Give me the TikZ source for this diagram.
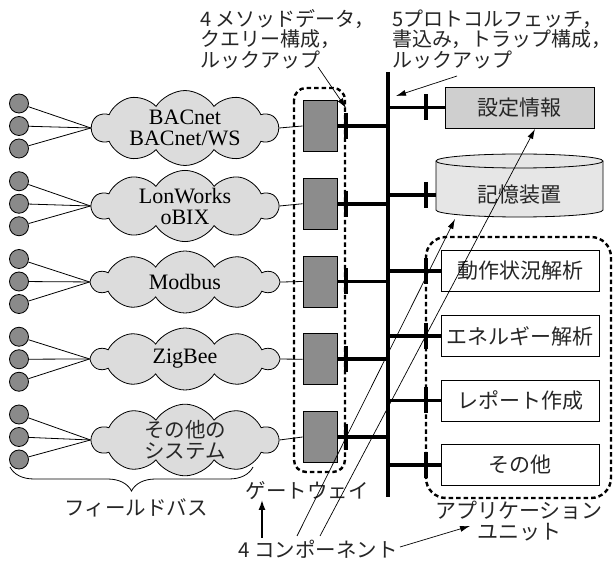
\documentclass[tikz,border=0pt]{standalone}
\usepackage{fontspec}
\setmainfont{Liberation Serif}
\newfontfamily\jp{Noto Sans CJK JP}
\newcommand\jpf{\jp\fontsize{20.5}{20.5}\selectfont}
\newcommand\jpt{\jp\fontsize{20}{20.5}\selectfont}
\newcommand\jpb{\jp\fontsize{21}{21}\selectfont}
\usetikzlibrary{shapes.symbols,arrows.meta,decorations.pathreplacing}
\definecolor{devgray}{HTML}{8A8A8A}
\definecolor{gwgray}{HTML}{8C8C8C}
\definecolor{cloudgray}{HTML}{DCDCDC}
\definecolor{setgray}{HTML}{CFCFCF}
\definecolor{memgray}{HTML}{E6E6E6}
\definecolor{txt}{HTML}{262626}
\begin{document}
\begin{tikzpicture}[x=1pt,y=-1pt,
  thinline/.style={line width=0.8pt},
  busline/.style={line width=3.6pt},
  tickline/.style={line width=4.2pt},
  dashframe/.style={line width=2.4pt,dash pattern=on 4.5pt off 3pt},
  dev/.style={circle,draw,fill=devgray,minimum size=19pt,inner sep=0pt,line width=0.8pt},
  netcloud/.style={cloud,draw,fill=cloudgray,cloud puffs=10,cloud puff arc=115,cloud ignores aspect,minimum width=186pt,minimum height=62pt,inner sep=0pt,align=center,line width=0.8pt,font=\fontsize{22}{21}\selectfont},
  gwbox/.style={draw,fill=gwgray,minimum width=34pt,minimum height=51pt,inner sep=0pt,line width=0.8pt},
  appbox/.style={draw,fill=white,minimum width=158pt,minimum height=41pt,inner sep=0pt,line width=0.8pt,font=\jpb,text=txt},
  jplabel/.style={inner sep=0pt,font=\jpf,text=txt},
  arr/.style={line width=0.7pt,-{Latex[length=10pt,width=6pt]}},
]
\useasboundingbox (0,0) rectangle (614,561);

% frames
\draw[dashframe,rounded corners=12pt] (294,88) rectangle (345,472);
\draw[dashframe,rounded corners=20pt] (426,237) rectangle (611,498);

% field devices, gateways
\foreach \i/\m in {1/126,2/203.75,3/281.5,4/359.25,5/437}{
  \node[dev] (da\i) at (19,{\m-22.5}) {};
  \node[dev] (db\i) at (19,\m) {};
  \node[dev] (dc\i) at (19,{\m+22.5}) {};
  \node[gwbox] (gw\i) at (320,\m) {};
  \coordinate (gt\i) at (346,\m);
  \coordinate (bj\i) at (388,\m);
}

% clouds
\node[netcloud] (cl1) at (185,128) {BACnet\\BACnet/WS};
\node[netcloud] (cl2) at (185,206) {LonWorks\\oBIX};
\node[netcloud] (cl3) at (185,282) {Modbus};
\node[netcloud] (cl4) at (185,359) {ZigBee};
\node[netcloud,font=\jpf,text=txt] (cl5) at (185,440) {その他の\\システム};

\foreach \i in {1,...,5}{
  \draw[thinline] (da\i) -- (cl\i.west);
  \draw[thinline] (db\i) -- (cl\i.west);
  \draw[thinline] (dc\i) -- (cl\i.west);
  \draw[thinline] (cl\i.east) -- (gw\i.west);
  \draw[busline] (gw\i.east) -- (bj\i);
  \draw[tickline] ([yshift=13pt]gt\i) -- ([yshift=-13pt]gt\i);
}

% bus
\coordinate (bustop) at (388,72);
\coordinate (busbot) at (388,497);
\coordinate (rtick) at (426,0);
\draw[busline] (bustop) -- (busbot);

% settings box
\node[draw,fill=setgray,minimum width=149pt,minimum height=41pt,inner sep=0pt,line width=0.8pt,font=\jpb,text=txt] (cfg) at (519.5,107.5) {設定情報};

% storage cylinder
\filldraw[fill=memgray,line width=0.8pt] (436,161) -- (436,210)
  arc[start angle=180,end angle=360,x radius=83.5pt,y radius=7pt] -- (603,161)
  arc[start angle=0,end angle=180,x radius=83.5pt,y radius=7pt] -- cycle;
\draw[line width=0.8pt] (436,161) arc[start angle=180,end angle=360,x radius=83.5pt,y radius=7pt];
\node[minimum width=167pt,inner sep=0pt,font=\jpb,text=txt] (mem) at (519.5,195) {記憶装置};

% application boxes
\node[appbox] (an1) at (520,271) {動作状況解析};
\node[appbox] (an2) at (520,336) {エネルギー解析};
\node[appbox] (an3) at (520,400.5) {レポート作成};
\node[appbox] (an4) at (520,465) {その他};

\foreach \n in {cfg,mem,an1,an2,an3,an4}{
  \draw[busline] (\n.west -| bustop) -- (\n.west);
  \path (\n.west -| rtick) coordinate (t\n);
  \draw[tickline] ([yshift=13pt]t\n) -- ([yshift=-13pt]t\n);
}

% top labels
\node[jplabel,font=\jpt,align=left,anchor=west] (lab1) at (200,39) {4 メソッドデータ，\\クエリー構成，\\ルックアップ};
\node[jplabel,font=\jpt,align=left,anchor=west] (lab2) at (392,39) {5プロトコルフェッチ，\\書込み，トラップ構成，\\ルックアップ};
\coordinate (a1s) at (318,67);
\coordinate (a1e) at (346,108);
\coordinate (a2s) at (457,76);
\coordinate (a2e) at (396,96);
\draw[arr] (a1s) -- (a1e);
\draw[arr] (a2s) -- (a2e);

% bottom labels
\coordinate (brl) at (10,467);
\coordinate (brr) at (253,467);
\draw[thinline,decorate,decoration={brace,mirror,amplitude=24pt}] (brl) -- (brr);
\node[jplabel] (fb) at (136,508) {フィールドバス};
\node[jplabel] (gwl) at (307,491) {ゲートウェイ};
\node[jplabel,align=center,font=\jp\fontsize{21}{21}\selectfont] (apl) at (519,521) {アプリケーション\\ユニット};
\node[jplabel,anchor=west] (comp) at (238,549) {4 コンポーネント};
\coordinate (upS) at (262,538);
\coordinate (upE) at (262,500);
\draw[line width=1.4pt,-{Latex[length=10pt,width=7pt]}] (upS) -- (upE);
\coordinate (c1s) at (297,536);
\coordinate (c1e) at (455,219);
\coordinate (c2s) at (320,536);
\coordinate (c2e) at (535,129);
\draw[arr] (c1s) -- (c1e);
\draw[arr] (c2s) -- (c2e);
\coordinate (c3s) at (400,547);
\coordinate (c3e) at (470,526);
\draw[arr] (c3s) -- (c3e);
\end{tikzpicture}
\end{document}
